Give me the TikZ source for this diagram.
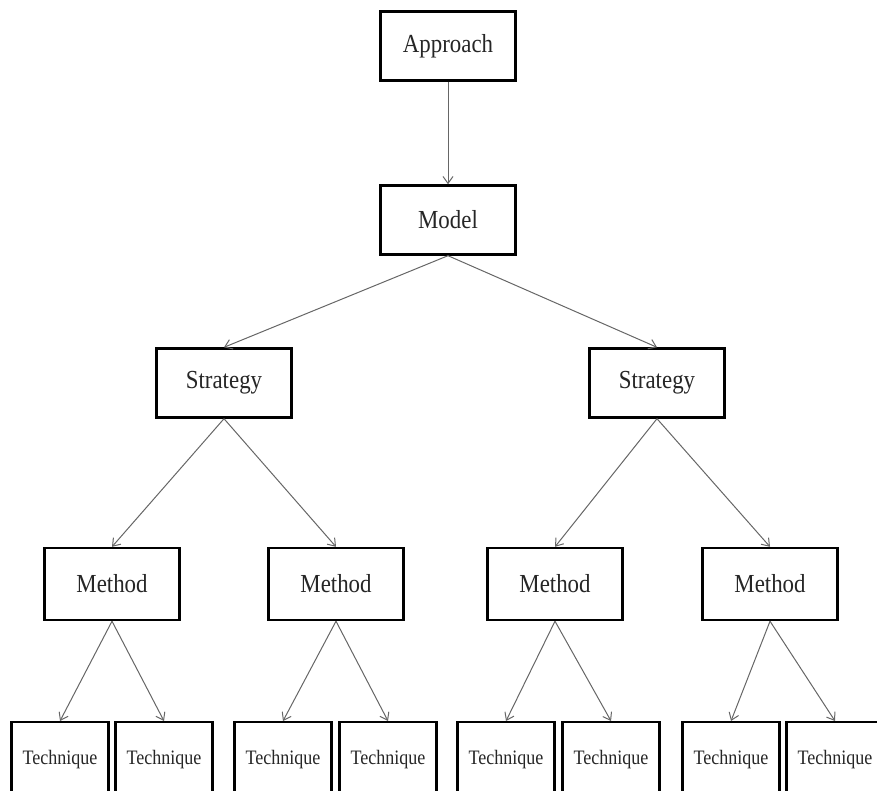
\documentclass[tikz,border=0pt]{standalone}
\usepackage{fontspec}
\setmainfont[FakeStretch=0.88]{Liberation Serif}
\usetikzlibrary{arrows.meta}
\tikzset{
  box/.style={draw=black, line width=2.4pt, fill=white, text=black!85, inner sep=0pt, anchor=center},
  big/.style={box, minimum width=135pt, minimum height=69pt, font=\fontsize{26}{29}\selectfont},
  tech/.style={box, minimum width=97pt, minimum height=74pt, font=\fontsize{20.5}{23}\selectfont},
  conn/.style={draw=black!60, line width=1pt, -{Straight Barb[length=7pt,width=10pt]}}
}
\begin{document}
\begin{tikzpicture}[x=1pt,y=-1pt]
\useasboundingbox (0,0) rectangle (877,790);
\node[big] (ap) at (448,46) {Approach};
\node[big] (mo) at (448,220) {Model};
\node[big] (s1) at (224,383) {Strategy};
\node[big] (s2) at (657,383) {Strategy};
\node[big, minimum height=72pt] (m1) at (112,584) {Method};
\node[big, minimum height=72pt] (m2) at (336,584) {Method};
\node[big, minimum height=72pt] (m3) at (555,584) {Method};
\node[big, minimum height=72pt] (m4) at (770,584) {Method};
\node[tech, anchor=north] (t1) at (60,721) {Technique};
\node[tech, anchor=north] (t2) at (164,721) {Technique};
\node[tech, anchor=north] (t3) at (283,721) {Technique};
\node[tech, anchor=north] (t4) at (388,721) {Technique};
\node[tech, anchor=north] (t5) at (506,721) {Technique};
\node[tech, anchor=north] (t6) at (611,721) {Technique};
\node[tech, anchor=north] (t7) at (731,721) {Technique};
\node[tech, anchor=north] (t8) at (835,721) {Technique};
\draw[conn] (ap.south) -- (mo.north);
\draw[conn] (mo.south) -- (s1.north);
\draw[conn] (mo.south) -- (s2.north);
\draw[conn] (s1.south) -- (m1.north);
\draw[conn] (s1.south) -- (m2.north);
\draw[conn] (s2.south) -- (m3.north);
\draw[conn] (s2.south) -- (m4.north);
\draw[conn] (m1.south) -- (t1.north);
\draw[conn] (m1.south) -- (t2.north);
\draw[conn] (m2.south) -- (t3.north);
\draw[conn] (m2.south) -- (t4.north);
\draw[conn] (m3.south) -- (t5.north);
\draw[conn] (m3.south) -- (t6.north);
\draw[conn] (m4.south) -- (t7.north);
\draw[conn] (m4.south) -- (t8.north);
\end{tikzpicture}
\end{document}
